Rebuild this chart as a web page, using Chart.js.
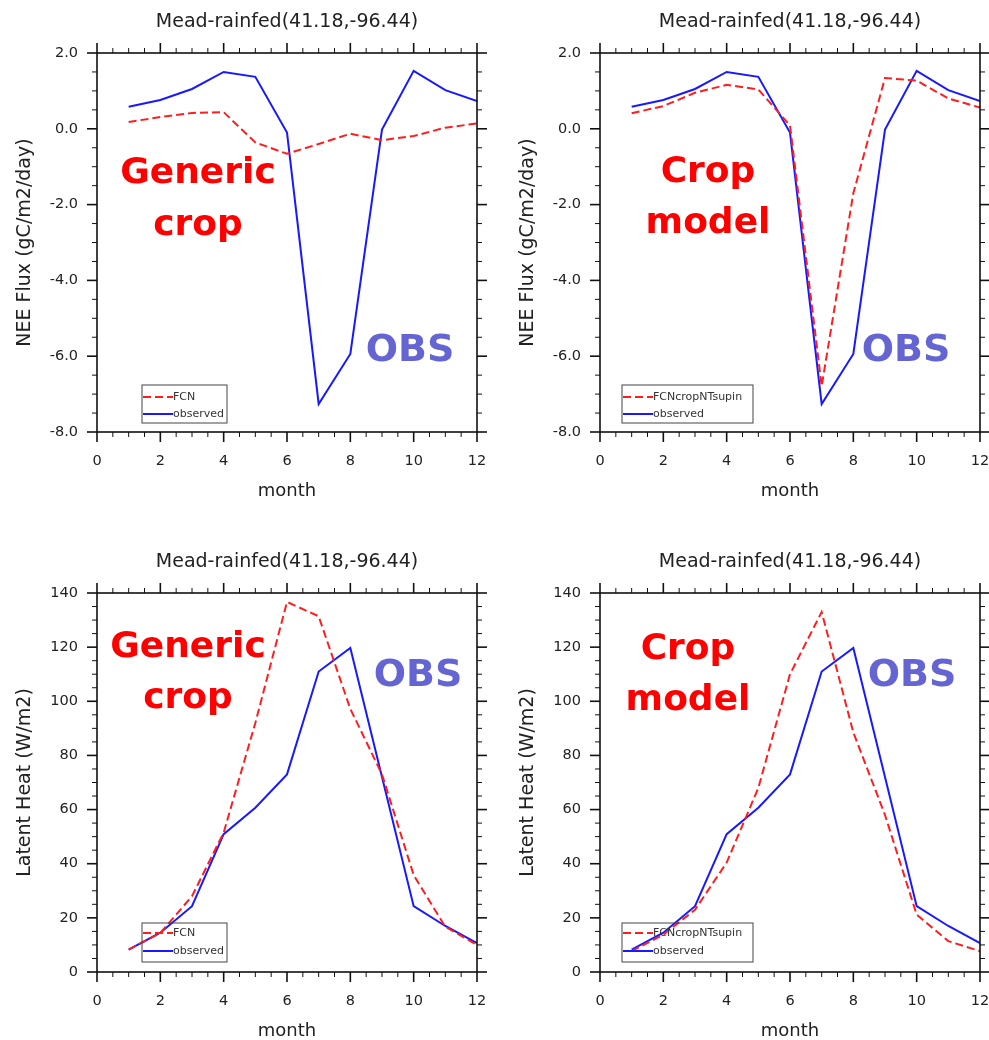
<!DOCTYPE html>
<html>
<head>
<meta charset="utf-8">
<title>Mead-rainfed</title>
<script src="https://cdn.jsdelivr.net/npm/chart.js@4.4.1/dist/chart.umd.min.js"></script>
<style>
    html, body { margin: 0; padding: 0; background: #fff; width: 989px; height: 1040px; overflow: hidden; position: relative; }
    canvas { position: absolute; }
</style>
</head>
<body>
<canvas id="neeGeneric" width="494" height="520" style="left:0px;top:0px"></canvas>
<canvas id="neeCrop" width="494" height="520" style="left:503px;top:0px"></canvas>
<canvas id="lhGeneric" width="494" height="520" style="left:0px;top:540px"></canvas>
<canvas id="lhCrop" width="494" height="520" style="left:503px;top:540px"></canvas>

<script>
// Monthly means, Mead rainfed site
const months = [1, 2, 3, 4, 5, 6, 7, 8, 9, 10, 11, 12];

const neeObserved = [0.58, 0.76, 1.05, 1.50, 1.37, -0.10, -7.26, -5.94, -0.02, 1.53, 1.02, 0.73];
const neeFCN = [0.18, 0.31, 0.42, 0.44, -0.36, -0.66, -0.40, -0.13, -0.30, -0.19, 0.03, 0.14];
const neeCropNT = [0.41, 0.60, 0.95, 1.16, 1.04, 0.09, -6.79, -1.70, 1.34, 1.27, 0.80, 0.56];

const lhObserved = [8.3, 14.5, 24.3, 50.9, 60.7, 73.0, 111.0, 119.7, 72.0, 24.3, 17.0, 10.7];
const lhFCN = [8.3, 14.4, 28.0, 51.5, 92.0, 136.7, 131.4, 97.2, 73.0, 35.8, 16.7, 10.0];
const lhCropNT = [7.7, 13.8, 23.0, 40.4, 68.0, 110.0, 133.0, 88.5, 58.0, 21.2, 11.4, 7.7];

const xTicks = [0, 2, 4, 6, 8, 10, 12];
const neeTicks = [-8, -6, -4, -2, 0, 2];
const lhTicks = [0, 20, 40, 60, 80, 100, 120, 140];

const siteTitle = 'Mead-rainfed(41.18,-96.44)';
const FONT = "'DejaVu Sans', 'Liberation Sans', Arial, sans-serif";
const RED = 'rgb(255, 30, 30)';
const BLUE = 'rgb(25, 25, 255)';

Chart.defaults.font.family = FONT;

const toPoints = values => values.map((v, i) => ({ x: months[i], y: v }));

// NCL-like frame with outward major/minor ticks on every side, plus title and legend box
const nclDecor = {
    id: 'nclDecor',
    afterDatasetsDraw(chart, args, opts) {
        const { ctx, chartArea: a, scales: { x, y } } = chart;
        const tick = (x1, y1, x2, y2, w) => {
            ctx.lineWidth = w;
            ctx.beginPath(); ctx.moveTo(x1, y1); ctx.lineTo(x2, y2); ctx.stroke();
        };
        ctx.save();
        ctx.strokeStyle = '#111';
        ctx.lineWidth = 1.6;
        ctx.strokeRect(a.left, a.top, a.right - a.left, a.bottom - a.top);

        for (let v = x.min; v <= x.max + 1e-9; v += 0.5) {
            const major = Math.abs(v % 2) < 1e-9;
            const len = major ? 10 : 5;
            const px = x.getPixelForValue(v);
            tick(px, a.bottom, px, a.bottom + len, major ? 1.6 : 1);
            tick(px, a.top, px, a.top - len, major ? 1.6 : 1);
        }
        for (let v = y.min; v <= y.max + 1e-9; v += opts.yMinor) {
            const major = Math.abs((v - y.min) % opts.yMajor) < 1e-9;
            const len = major ? 10 : 5;
            const py = y.getPixelForValue(v);
            tick(a.left, py, a.left - len, py, major ? 1.6 : 1);
            tick(a.right, py, a.right + len, py, major ? 1.6 : 1);
        }

        // title
        ctx.fillStyle = '#222';
        ctx.font = `19px ${FONT}`;
        ctx.textAlign = 'center';
        ctx.textBaseline = 'alphabetic';
        ctx.fillText(siteTitle, (a.left + a.right) / 2, 27);

        // legend box
        const lg = opts.legend;
        ctx.lineWidth = 1;
        ctx.strokeStyle = '#444';
        ctx.strokeRect(lg.x, lg.y, lg.w, lg.h);
        ctx.save();
        ctx.beginPath();
        ctx.rect(lg.x, lg.y, lg.w, lg.h);
        ctx.clip();
        chart.data.datasets.forEach((ds, i) => {
            const ry = lg.rows[i];
            ctx.strokeStyle = ds.borderColor;
            ctx.lineWidth = 2;
            ctx.setLineDash(ds.borderDash || []);
            ctx.beginPath(); ctx.moveTo(lg.x + 1, ry); ctx.lineTo(lg.x + lg.line, ry); ctx.stroke();
            ctx.setLineDash([]);
            ctx.fillStyle = '#333';
            ctx.font = `11px ${FONT}`;
            ctx.textAlign = 'left';
            ctx.textBaseline = 'middle';
            ctx.fillText(ds.label, lg.x + lg.line, ry);
        });
        ctx.restore();

        // big hand-written style labels
        opts.notes.forEach(n => {
            ctx.fillStyle = n.color;
            ctx.font = `bold ${n.size}px ${FONT}`;
            ctx.textAlign = 'center';
            ctx.textBaseline = 'alphabetic';
            ctx.fillText(n.text, n.x, n.y);
        });
        ctx.restore();
    }
};

function makePanel(id, cfg) {
    const ctx = document.getElementById(id).getContext('2d');
    return new Chart(ctx, {
        type: 'line',
        data: {
            datasets: [{
                label: cfg.modelLabel,
                data: toPoints(cfg.model),
                borderColor: RED,
                borderWidth: 2,
                borderDash: [8, 4],
                pointRadius: 0,
                tension: 0
            }, {
                label: 'observed',
                data: toPoints(cfg.observed),
                borderColor: BLUE,
                borderWidth: 2,
                pointRadius: 0,
                tension: 0
            }]
        },
        options: {
            responsive: false,
            animation: false,
            devicePixelRatio: 1,
            layout: { padding: { top: 53, right: 17, bottom: 0, left: 0 } },
            plugins: {
                legend: { display: false },
                tooltip: { enabled: false },
                nclDecor: { yMinor: cfg.yMinor, yMajor: cfg.yMajor, legend: cfg.legend, notes: cfg.notes }
            },
            scales: {
                x: {
                    type: 'linear',
                    min: 0,
                    max: 12,
                    grid: { display: false, drawTicks: false },
                    border: { display: false },
                    afterBuildTicks: s => { s.ticks = xTicks.map(v => ({ value: v })); },
                    ticks: { padding: 21, color: '#222', font: { size: 14.5 } },
                    title: { display: true, text: 'month', color: '#222', font: { size: 18 }, padding: { top: 0, bottom: 18 } },
                    afterFit: s => { s.height = 88; s.paddingLeft = 0; s.paddingRight = 0; }
                },
                y: {
                    type: 'linear',
                    min: cfg.yTicks[0],
                    max: cfg.yTicks[cfg.yTicks.length - 1],
                    grid: { display: false, drawTicks: false },
                    border: { display: false },
                    afterBuildTicks: s => { s.ticks = cfg.yTicks.map(v => ({ value: v })); },
                    ticks: { padding: 19, color: '#222', font: { size: 14.5 }, callback: cfg.fmt },
                    title: { display: true, text: cfg.yTitle, color: '#222', font: { size: 19 }, padding: { top: 14, bottom: 0 } },
                    afterFit: s => { s.width = 97; s.paddingTop = 0; s.paddingBottom = 0; }
                }
            }
        },
        plugins: [nclDecor]
    });
}

const neeFmt = v => v.toFixed(1);
const lhFmt = v => String(v);

makePanel('neeGeneric', {
    model: neeFCN, modelLabel: 'FCN', observed: neeObserved,
    yTicks: neeTicks, yMajor: 2, yMinor: 0.5, fmt: neeFmt, yTitle: 'NEE Flux (gC/m2/day)',
    legend: { x: 142, y: 385, w: 85, h: 38, line: 31, rows: [397, 414] },
    notes: [
        { text: 'Generic', x: 198, y: 183, size: 36, color: '#ff0000' },
        { text: 'crop', x: 198, y: 235, size: 36, color: '#ff0000' },
        { text: 'OBS', x: 410, y: 361, size: 38, color: '#6464d2' }
    ]
});

makePanel('neeCrop', {
    model: neeCropNT, modelLabel: 'FCNcropNTsupin', observed: neeObserved,
    yTicks: neeTicks, yMajor: 2, yMinor: 0.5, fmt: neeFmt, yTitle: 'NEE Flux (gC/m2/day)',
    legend: { x: 119, y: 385, w: 131, h: 38, line: 31, rows: [397, 414] },
    notes: [
        { text: 'Crop', x: 205, y: 182, size: 36, color: '#ff0000' },
        { text: 'model', x: 205, y: 233, size: 36, color: '#ff0000' },
        { text: 'OBS', x: 403, y: 361, size: 38, color: '#6464d2' }
    ]
});

makePanel('lhGeneric', {
    model: lhFCN, modelLabel: 'FCN', observed: lhObserved,
    yTicks: lhTicks, yMajor: 20, yMinor: 5, fmt: lhFmt, yTitle: 'Latent Heat (W/m2)',
    legend: { x: 142, y: 383, w: 85, h: 39, line: 31, rows: [393, 411] },
    notes: [
        { text: 'Generic', x: 188, y: 117, size: 36, color: '#ff0000' },
        { text: 'crop', x: 188, y: 168, size: 36, color: '#ff0000' },
        { text: 'OBS', x: 418, y: 146, size: 38, color: '#6464d2' }
    ]
});

makePanel('lhCrop', {
    model: lhCropNT, modelLabel: 'FCNcropNTsupin', observed: lhObserved,
    yTicks: lhTicks, yMajor: 20, yMinor: 5, fmt: lhFmt, yTitle: 'Latent Heat (W/m2)',
    legend: { x: 119, y: 383, w: 131, h: 39, line: 31, rows: [393, 411] },
    notes: [
        { text: 'Crop', x: 185, y: 119, size: 36, color: '#ff0000' },
        { text: 'model', x: 185, y: 170, size: 36, color: '#ff0000' },
        { text: 'OBS', x: 409, y: 146, size: 38, color: '#6464d2' }
    ]
});
</script>
</body>
</html>
